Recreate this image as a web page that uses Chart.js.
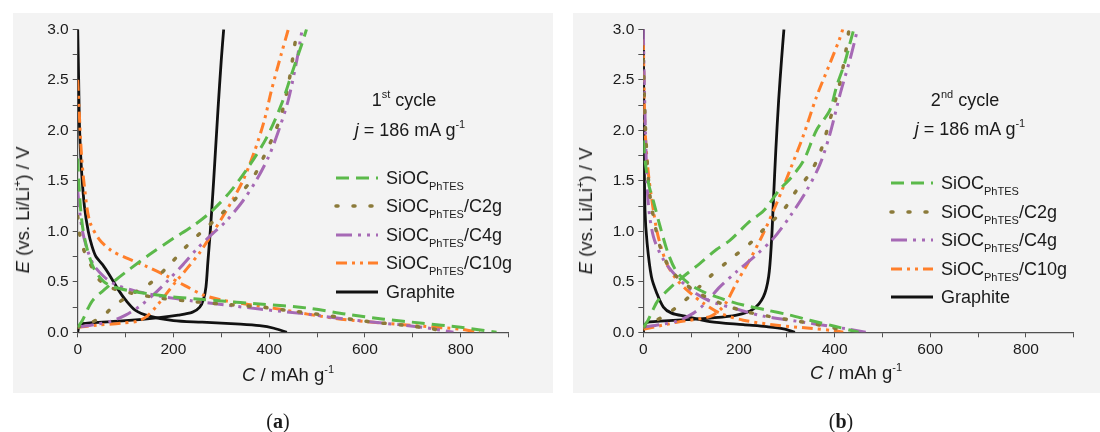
<!DOCTYPE html>
<html>
<head>
<meta charset="utf-8">
<script src="https://cdn.jsdelivr.net/npm/chart.js@4.4.0/dist/chart.umd.min.js"></script>
<style>
  body { margin:0; width:1100px; height:432px; background:#fff; position:relative; overflow:hidden;
         font-family:"Liberation Sans", Arial, sans-serif; color:#1a1a1a; }
  .panel { position:absolute; top:13px; height:380px; background:#f3f3f3; }
  .panel canvas { position:absolute; left:0; top:0; }
  .t { position:absolute; white-space:nowrap; transform:translate(-50%,-50%); }
  .ax { font-size:18.5px; }
  .ann { font-size:18px; }
  .rot { transform:translate(-50%,-50%) rotate(-90deg); }
  .cap { font-family:"Liberation Serif", serif; font-size:20px; }
  .leg { position:absolute; white-space:nowrap; font-size:18px; line-height:22px; }
  .leg svg { position:absolute; left:0; top:7px; }
  .leg span { position:absolute; left:52px; top:0; }
  sub { font-size:11px; vertical-align:-6px; line-height:0; }
  sup { font-size:11px; vertical-align:8px; line-height:0; }
</style>
</head>
<body>
<div class="panel" style="left:13px;width:540px"><canvas id="chartA" width="540" height="380"></canvas></div>
<div class="panel" style="left:573px;width:527px"><canvas id="chartB" width="527" height="380"></canvas></div>

<div class="t ax rot" style="left:23px;top:210px"><i>E</i> (vs. Li/Li<sup>+</sup>) / V</div>
<div class="t ax" style="left:288px;top:375px"><i>C</i> / mAh g<sup>-1</sup></div>
<div class="t ann" style="left:404px;top:100px">1<sup>st</sup> cycle</div>
<div class="t ann" style="left:410px;top:130px"><i>j</i> = 186 mA g<sup>-1</sup></div>
<div class="t cap" style="left:278px;top:421px">(<b>a</b>)</div>

<div class="t ax rot" style="left:586px;top:211px"><i>E</i> (vs. Li/Li<sup>+</sup>) / V</div>
<div class="t ax" style="left:856px;top:373px"><i>C</i> / mAh g<sup>-1</sup></div>
<div class="t ann" style="left:965px;top:100px">2<sup>nd</sup> cycle</div>
<div class="t ann" style="left:970px;top:129px"><i>j</i> = 186 mA g<sup>-1</sup></div>
<div class="t cap" style="left:841px;top:421px">(<b>b</b>)</div>

<div id="legA"></div>
<div id="legB"></div>

<script>
// series names (main text, subscript, suffix)
const names = [
  ['SiOC', 'PhTES', ''],
  ['SiOC', 'PhTES', '/C2g'],
  ['SiOC', 'PhTES', '/C4g'],
  ['SiOC', 'PhTES', '/C10g'],
  ['Graphite', '', '']
];

// axis ticks
const xMax = 900, xStep = 100, xLabelEvery = 200;
const yMax = 3.0, yStep = 0.25, yLabelEvery = 0.5;

// (a) 1st cycle, [C mAh/g, E V]
const a_PhTES_dis = [[0,1.72],[4,1.35],[10,1.05],[20,0.82],[35,0.62],[55,0.5],[75,0.45],[110,0.41],[150,0.38],[200,0.35],[250,0.33],[300,0.31],[380,0.28],[480,0.24],[560,0.18],[640,0.13],[720,0.09],[800,0.05],[875,0.0]];
const a_PhTES_cha = [[0,0.05],[10,0.12],[22,0.24],[32,0.32],[55,0.42],[80,0.52],[110,0.63],[150,0.77],[200,0.93],[240,1.05],[280,1.2],[320,1.4],[360,1.66],[395,1.93],[425,2.25],[450,2.6],[468,2.85],[478,3.0]];
const a_C2g_dis = [[0,1.15],[5,0.95],[14,0.8],[28,0.66],[45,0.52],[70,0.44],[110,0.39],[170,0.34],[230,0.31],[300,0.28],[380,0.25],[450,0.21],[530,0.16],[600,0.11],[680,0.07],[740,0.035],[772,0.0]];
const a_C2g_cha = [[0,0.05],[30,0.1],[55,0.17],[75,0.26],[110,0.37],[150,0.48],[190,0.66],[225,0.84],[260,1.0],[300,1.17],[335,1.35],[365,1.52],[390,1.75],[410,1.96],[425,2.15],[440,2.45],[452,2.8],[458,3.0]];
const a_C4g_dis = [[0,1.4],[4,1.2],[10,1.0],[20,0.82],[33,0.67],[55,0.55],[80,0.47],[120,0.41],[170,0.36],[240,0.31],[310,0.27],[380,0.23],[480,0.18],[560,0.13],[640,0.09],[720,0.05],[785,0.0]];
const a_C4g_cha = [[0,0.05],[40,0.08],[70,0.11],[100,0.17],[130,0.26],[160,0.38],[190,0.52],[220,0.67],[250,0.83],[280,0.97],[310,1.1],[345,1.3],[375,1.52],[400,1.75],[420,2.0],[440,2.3],[458,2.7],[469,3.0]];
const a_C10g_dis = [[0,2.5],[3,2.2],[8,1.75],[15,1.4],[25,1.1],[45,0.92],[70,0.81],[100,0.74],[140,0.66],[185,0.56],[225,0.46],[262,0.37],[300,0.32],[350,0.28],[420,0.23],[480,0.18],[550,0.13],[640,0.09],[720,0.06],[800,0.03],[840,0.0]];
const a_C10g_cha = [[0,0.05],[40,0.07],[90,0.09],[125,0.11],[145,0.16],[165,0.26],[185,0.38],[205,0.5],[230,0.64],[255,0.79],[280,0.97],[310,1.2],[345,1.5],[370,1.8],[390,2.1],[405,2.4],[425,2.75],[440,3.0]];
const a_Graphite_dis = [[0,3.0],[2,2.5],[4,2.0],[8,1.6],[14,1.25],[22,1.0],[30,0.85],[38,0.75],[52,0.67],[66,0.57],[85,0.42],[100,0.32],[120,0.22],[150,0.16],[200,0.115],[260,0.1],[340,0.08],[380,0.065],[410,0.04],[437,0.0]];
const a_Graphite_cha = [[0,0.0],[3,0.06],[10,0.085],[30,0.095],[100,0.115],[170,0.145],[210,0.17],[240,0.2],[255,0.25],[263,0.33],[268,0.45],[272,0.7],[277,1.0],[284,1.5],[293,2.2],[300,2.7],[305,3.0]];

// (b) 2nd cycle
const b_PhTES_dis = [[0,1.9],[5,1.65],[12,1.45],[21,1.3],[35,1.05],[52,0.78],[70,0.6],[105,0.45],[153,0.35],[209,0.27],[258,0.22],[307,0.17],[348,0.12],[400,0.06],[450,0.0]];
const b_PhTES_cha = [[0,0.05],[10,0.12],[20,0.22],[30,0.31],[56,0.44],[91,0.58],[118,0.68],[153,0.82],[181,0.91],[223,1.1],[251,1.2],[286,1.42],[307,1.52],[335,1.7],[362,2.0],[390,2.2],[405,2.45],[420,2.65],[432,2.86],[440,3.0]];
const b_C2g_dis = [[0,2.7],[3,2.2],[8,1.7],[14,1.35],[25,1.05],[35,0.85],[50,0.68],[70,0.55],[111,0.4],[160,0.29],[210,0.21],[260,0.16],[310,0.12],[360,0.08],[400,0.04],[420,0.0]];
const b_C2g_cha = [[0,0.05],[28,0.12],[50,0.18],[70,0.25],[100,0.37],[139,0.55],[181,0.72],[223,0.88],[258,1.05],[293,1.21],[321,1.41],[348,1.57],[369,1.77],[390,2.1],[411,2.47],[424,2.8],[430,3.0]];
const b_C4g_dis = [[0,3.0],[2,2.5],[5,1.9],[10,1.3],[21,0.95],[42,0.72],[70,0.55],[105,0.4],[139,0.31],[195,0.23],[251,0.16],[321,0.11],[390,0.06],[430,0.03],[465,0.0]];
const b_C4g_cha = [[0,0.05],[40,0.08],[70,0.11],[105,0.19],[130,0.29],[160,0.45],[195,0.6],[237,0.77],[272,0.93],[307,1.15],[341,1.4],[369,1.66],[390,1.96],[411,2.35],[432,2.7],[448,3.0]];
const b_C10g_dis = [[0,2.9],[3.5,2.04],[10,1.6],[21,1.21],[31,0.95],[49,0.68],[70,0.52],[98,0.39],[125,0.29],[160,0.19],[209,0.12],[279,0.07],[348,0.04],[400,0.015],[418,0.0]];
const b_C10g_cha = [[0,0.03],[40,0.07],[70,0.1],[139,0.155],[160,0.22],[174,0.3],[195,0.49],[223,0.72],[251,0.98],[279,1.28],[307,1.61],[334,1.94],[362,2.33],[390,2.66],[410,2.9],[417,3.0]];
const b_Graphite_dis = [[0,3.0],[1.5,2.0],[3.5,1.21],[8,0.88],[17,0.55],[28,0.39],[42,0.25],[59,0.19],[91,0.155],[139,0.105],[209,0.075],[258,0.056],[293,0.035],[317,0.0]];
const b_Graphite_cha = [[0,0.0],[3,0.07],[10,0.1],[35,0.11],[90,0.125],[139,0.14],[195,0.17],[230,0.23],[251,0.35],[262,0.55],[268,0.9],[272,1.3],[277,1.8],[283,2.3],[289,2.7],[294,3.0]];

// line styles, same order as names
const styles = [
  { color:'#5bb94a', width:3,   dash:[13,7],              cap:'butt'  },
  { color:'#8b7a3a', width:3.5, dash:[2,15],              cap:'round' },
  { color:'#a669b5', width:3,   dash:[16,6,3,6,3,6],      cap:'butt'  },
  { color:'#ff7f2a', width:3,   dash:[11,5,3,5,3,5],      cap:'butt'  },
  { color:'#111111', width:2.8, dash:[],                  cap:'butt'  }
];

const curvesA = [[a_PhTES_dis, a_PhTES_cha], [a_C2g_dis, a_C2g_cha], [a_C4g_dis, a_C4g_cha], [a_C10g_dis, a_C10g_cha], [a_Graphite_dis, a_Graphite_cha]];
const curvesB = [[b_PhTES_dis, b_PhTES_cha], [b_C2g_dis, b_C2g_cha], [b_C4g_dis, b_C4g_cha], [b_C10g_dis, b_C10g_cha], [b_Graphite_dis, b_Graphite_cha]];

function makeDatasets(curves) {
  const out = [];
  curves.forEach((pair, i) => {
    const s = styles[i];
    pair.forEach(pts => {
      out.push({
        data: pts.map(p => ({ x: p[0], y: p[1] })),
        showLine: true,
        borderColor: s.color,
        borderWidth: s.width,
        borderDash: s.dash,
        borderCapStyle: s.cap,
        pointRadius: 0,
        tension: 0.3,
        fill: false
      });
    });
  });
  return out;
}

function makeChart(id, curves, yWidth, padRight) {
  const axisColor = '#505050';
  new Chart(document.getElementById(id), {
    type: 'scatter',
    data: { datasets: makeDatasets(curves) },
    options: {
      responsive: false,
      animation: false,
      layout: { padding: { top: 16.3, right: padRight, left: 0, bottom: 0 } },
      plugins: { legend: { display: false }, tooltip: { enabled: false } },
      scales: {
        x: {
          type: 'linear', min: 0, max: xMax,
          grid: { drawOnChartArea: false, drawTicks: true, tickLength: 5, color: axisColor },
          border: { display: true, color: axisColor, width: 1.2 },
          ticks: {
            stepSize: xStep, autoSkip: false, maxRotation: 0, padding: 3,
            color: '#1a1a1a', font: { family: 'Liberation Sans', size: 15.5 },
            callback: v => (v % xLabelEvery === 0 ? v : '')
          },
          afterFit: s => { s.height = 60.7; }
        },
        y: {
          type: 'linear', min: 0, max: yMax,
          grid: { drawOnChartArea: false, drawTicks: true, tickLength: 5, color: axisColor },
          border: { display: true, color: axisColor, width: 1.2 },
          ticks: {
            stepSize: yStep, autoSkip: false, padding: 4,
            color: '#1a1a1a', font: { family: 'Liberation Sans', size: 15.5 },
            callback: v => (Math.abs(v / yLabelEvery - Math.round(v / yLabelEvery)) < 1e-6 ? v.toFixed(1) : '')
          },
          afterFit: s => { s.width = yWidth; }
        }
      }
    }
  });
}

makeChart('chartA', curvesA, 64.7, 44.5);
makeChart('chartB', curvesB, 70.3, 26.2);

function makeLegend(el, left, top, step) {
  let html = '';
  names.forEach((n, i) => {
    const s = styles[i];
    const dash = s.dash.length ? s.dash.join(' ') : 'none';
    html += '<div class="leg" style="left:' + left + 'px;top:' + (top + i * step - 11) + 'px">' +
      '<svg width="46" height="8"><line x1="2" y1="4" x2="44" y2="4" stroke="' + s.color +
      '" stroke-width="' + s.width + '" stroke-dasharray="' + dash + '" stroke-linecap="' + s.cap + '"/></svg>' +
      '<span>' + n[0] + (n[1] ? '<sub>' + n[1] + '</sub>' : '') + n[2] + '</span></div>';
  });
  document.getElementById(el).innerHTML = html;
}
makeLegend('legA', 334, 178, 28.4);
makeLegend('legB', 889, 183, 28.5);
</script>
</body>
</html>
